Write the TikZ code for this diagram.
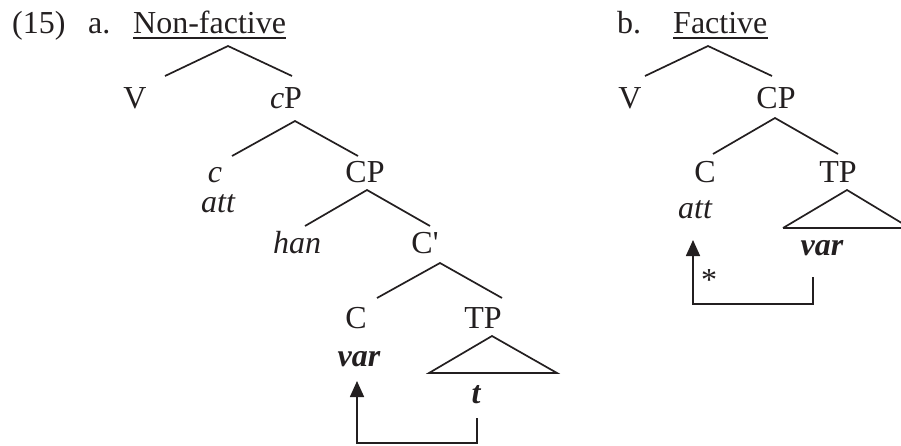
\documentclass[tikz,border=0pt]{standalone}
\usepackage{fontspec}
\setmainfont{Liberation Serif}
\usetikzlibrary{arrows.meta}
\definecolor{ink}{RGB}{35,31,32}
\begin{document}
\begin{tikzpicture}[x=1pt,y=-1pt,
  lbl/.style={inner sep=0pt,anchor=base,text=ink},
  br/.style={draw=ink,line width=1.7pt},
  ul/.style={draw=ink,line width=1.7pt},
  mv/.style={draw=ink,line width=1.7pt,-{Triangle[width=14pt,length=16pt]}},
  font=\fontsize{32}{38}\selectfont]
\useasboundingbox (0,0) rectangle (901,445);
% ---------- headers
\node[lbl,anchor=base west] (ex) at (12,33) {(15)};
\node[lbl,anchor=base west] (la) at (88,33) {a.};
\node[lbl,anchor=base west] (nf) at (133,33) {Non-factive};
\draw[ul] ([yshift=-5pt]nf.base west) -- ([yshift=-5pt]nf.base east);
\node[lbl,anchor=base west] (lb) at (617,33) {b.};
\node[lbl,anchor=base west] (fa) at (673,33) {Factive};
\draw[ul] ([yshift=-5pt]fa.base west) -- ([yshift=-5pt]fa.base east);
% ---------- tree a
\node[lbl] (Va) at (135,108) {V};
\node[lbl] (cPa) at (286,108) {{\itshape c}P};
\node[lbl] (ca) at (215,182) {\itshape c};
\node[lbl] (atta) at (218,212) {\itshape att};
\node[lbl] (CPa) at (365,182) {CP};
\node[lbl] (han) at (297,253) {\itshape han};
\node[lbl] (Cba) at (425,253) {C\textquotesingle};
\node[lbl] (Ca) at (356,328) {C};
\node[lbl] (TPa) at (483,328) {TP};
\node[lbl] (vara) at (359,366) {\bfseries\itshape var};
\node[lbl] (ta) at (476,403) {\bfseries\itshape t};
\coordinate (a0) at (228,46);  \coordinate (a0l) at (165,76);  \coordinate (a0r) at (292,76);
\coordinate (a1) at (295,121); \coordinate (a1l) at (232,156); \coordinate (a1r) at (358,156);
\coordinate (a2) at (367,190); \coordinate (a2l) at (305,226); \coordinate (a2r) at (430,226);
\coordinate (a3) at (440,263); \coordinate (a3l) at (377,298); \coordinate (a3r) at (502,298);
\coordinate (ta0) at (492,336); \coordinate (tal) at (429,373); \coordinate (tar) at (557,373);
\draw[br] (a0l) -- (a0) -- (a0r);
\draw[br] (a1l) -- (a1) -- (a1r);
\draw[br] (a2l) -- (a2) -- (a2r);
\draw[br] (a3l) -- (a3) -- (a3r);
\draw[br,line join=miter] (tal) -- (ta0) -- (tar) -- cycle;
\coordinate (ma1) at (477,418); \coordinate (ma2) at (477,443);
\coordinate (ma3) at (357,443); \coordinate (ma4) at (357,381);
\draw[mv] (ma1) -- (ma2) -- (ma3) -- (ma4);
% ---------- tree b
\node[lbl] (Vb) at (630,108) {V};
\node[lbl] (CPb) at (776,108) {CP};
\node[lbl] (Cb) at (705,182) {C};
\node[lbl] (TPb) at (838,182) {TP};
\node[lbl] (attb) at (695,218) {\itshape att};
\node[lbl] (varb) at (822,255) {\bfseries\itshape var};
\node[inner sep=0pt,text=ink] (star) at (709,280) {*};
\coordinate (b0) at (708,46);  \coordinate (b0l) at (645,76);  \coordinate (b0r) at (772,76);
\coordinate (b1) at (775,118); \coordinate (b1l) at (713,154); \coordinate (b1r) at (838,154);
\coordinate (tb0) at (847,190); \coordinate (tbl) at (783,228); \coordinate (tbr) at (910,228);
\draw[br] (b0l) -- (b0) -- (b0r);
\draw[br] (b1l) -- (b1) -- (b1r);
\draw[br,line join=miter] (tbl) -- (tb0) -- (tbr);
\draw[br] (tbl) -- (901,228);
\coordinate (mb1) at (813,277); \coordinate (mb2) at (813,304);
\coordinate (mb3) at (693,304); \coordinate (mb4) at (693,240);
\draw[mv] (mb1) -- (mb2) -- (mb3) -- (mb4);
\end{tikzpicture}
\end{document}
